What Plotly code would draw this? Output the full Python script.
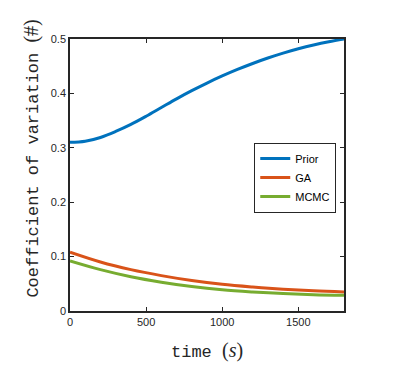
import plotly.graph_objects as go

# prior read on a finer grid, the two posteriors every 200 s
time_prior = [0, 100, 200, 300, 400, 500, 600, 700, 800, 900, 1000,
              1100, 1200, 1300, 1400, 1500, 1600, 1700, 1800]
prior = [0.310, 0.312, 0.319, 0.330, 0.343, 0.358, 0.374, 0.390, 0.405, 0.419, 0.432,
         0.444, 0.455, 0.465, 0.474, 0.482, 0.489, 0.495, 0.500]

time_post = [0, 200, 400, 600, 800, 1000, 1200, 1400, 1600, 1800]
ga = [0.108, 0.090, 0.076, 0.065, 0.056, 0.049, 0.044, 0.040, 0.037, 0.035]
mcmc = [0.092, 0.076, 0.063, 0.053, 0.045, 0.039, 0.035, 0.032, 0.030, 0.029]

series = [("Prior", time_prior, prior, "#0072BD"),
          ("GA", time_post, ga, "#D95319"),
          ("MCMC", time_post, mcmc, "#77AC30")]

fig = go.Figure()
for name, t, vals, col in series:
    fig.add_trace(go.Scatter(x=t, y=vals, name=name, mode="lines",
                             line=dict(color=col, width=3, shape="spline", smoothing=1)))

axis_common = dict(showline=True, linecolor="#262626", linewidth=1.5, mirror="allticks",
                   ticks="inside", ticklen=4, tickcolor="#262626", tickwidth=1.2,
                   showgrid=False, zeroline=False,
                   tickfont=dict(family="Liberation Sans, Arial", size=11, color="#262626"))

fig.update_xaxes(range=[0, 1800], tickvals=[0, 500, 1000, 1500], **axis_common)
fig.update_yaxes(range=[0, 0.5], tickvals=[0, 0.1, 0.2, 0.3, 0.4, 0.5],
                 ticktext=["0", "0.1", "0.2", "0.3", "0.4", "0.5"], **axis_common)

fig.add_annotation(text="time <span style='font-family:Liberation Serif;font-size:20px'>(<i>s</i>)</span>",
                   xref="paper", yref="paper", x=0.5, y=-0.145, yanchor="middle",
                   showarrow=False, font=dict(family="Liberation Mono, Courier New", size=17, color="#262626"))
fig.add_annotation(text="Coefficient of variation <span style='font-family:Liberation Serif;font-size:20px'>(#)</span>",
                   xref="paper", yref="paper", x=-0.139, y=0.56, xanchor="center", yanchor="middle",
                   textangle=-90, showarrow=False,
                   font=dict(family="Liberation Mono, Courier New", size=17, color="#262626"))

fig.update_layout(
    width=399, height=376,
    margin=dict(l=62, r=63, t=31, b=73),
    paper_bgcolor="white", plot_bgcolor="white",
    legend=dict(x=0.971, y=0.618, xanchor="right", yanchor="top",
                bgcolor="white", bordercolor="#262626", borderwidth=1.2,
                font=dict(family="Liberation Sans, Arial", size=11, color="black"),
                tracegroupgap=0, itemwidth=30),
)

fig.write_html("out.html")
